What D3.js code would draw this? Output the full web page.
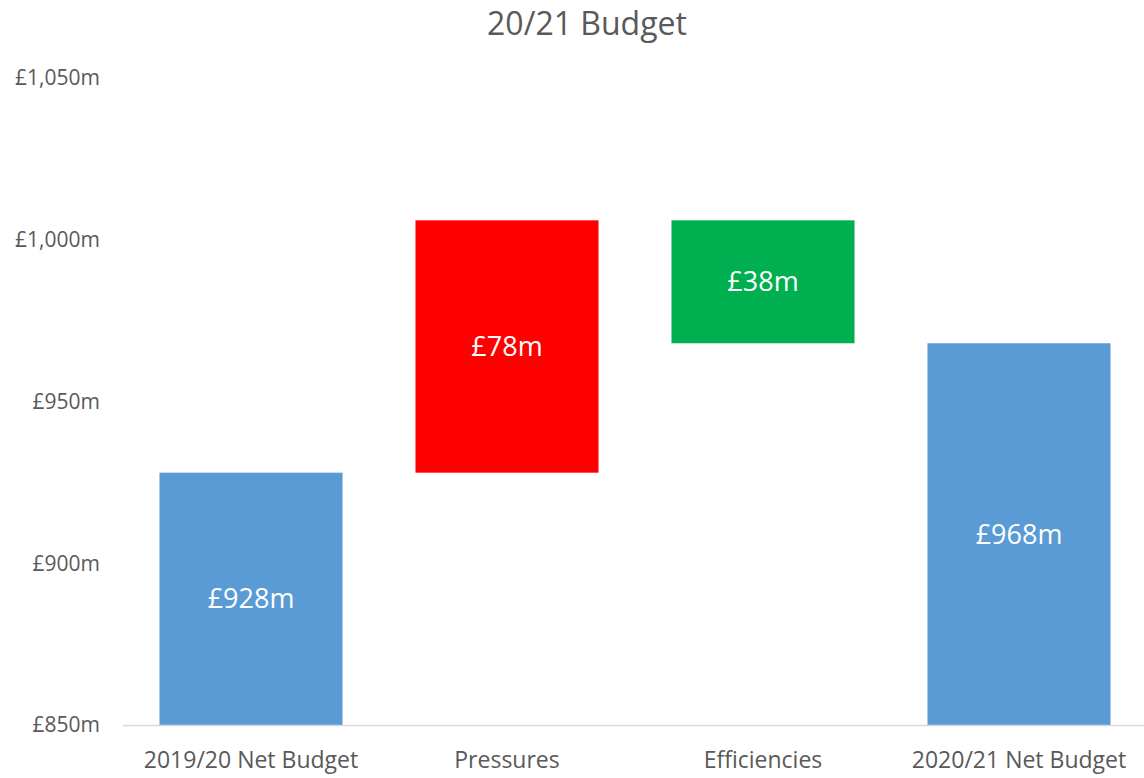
<!DOCTYPE html>
<html>
<head>
<meta charset="utf-8">
<script src="https://cdn.jsdelivr.net/npm/d3@7"></script>
<style>
  body { margin: 0; background: #fff; }
  text { font-family: "Open Sans", "Noto Sans", sans-serif; }
</style>
</head>
<body>
<svg></svg>
<script>
const categories = ['2019/20 Net Budget', 'Pressures', 'Efficiencies', '2020/21 Net Budget'];
const amounts = [928, 78, -38, 968];
const kinds = ['total', 'increase', 'decrease', 'total'];
const yTicks = [850, 900, 950, 1000, 1050];

const kindColor = { total: '#5b9bd5', increase: '#ff0000', decrease: '#00b050' };

const svgWidth = 1144;
const svgHeight = 778;
const margin = { top: 78, right: -3, bottom: 53, left: 123 };
const width = svgWidth - margin.left - margin.right;
const height = svgHeight - margin.top - margin.bottom;

// work out start/end of each waterfall step
let running = 0;
const steps = categories.map((c, i) => {
    let start, end;
    if (kinds[i] === 'total') {
        start = 850;
        end = amounts[i];
        running = amounts[i];
    } else {
        start = running;
        end = running + amounts[i];
        running = end;
    }
    return { category: c, amount: amounts[i], kind: kinds[i], start, end };
});

const svg = d3.select('svg')
    .attr('width', svgWidth)
    .attr('height', svgHeight);

svg.append('text')
    .attr('x', 587)
    .attr('y', 35)
    .attr('text-anchor', 'middle')
    .attr('fill', '#595959')
    .attr('font-size', '32px')
    .text('20/21 Budget');

const g = svg.append('g')
    .attr('transform', `translate(${margin.left}, ${margin.top})`);

const x = d3.scaleBand()
    .domain(categories)
    .range([0, width])
    .paddingInner(0.285)
    .paddingOuter(0.1425);

const y = d3.scaleLinear()
    .domain([850, 1050])
    .range([height, 0]);

// y tick labels only, no axis line
g.selectAll('.ytick')
    .data(yTicks)
    .enter().append('text')
    .attr('class', 'ytick')
    .attr('x', -23)
    .attr('y', d => y(d))
    .attr('dy', '.35em')
    .attr('text-anchor', 'end')
    .attr('fill', '#595959')
    .attr('font-size', '21px')
    .text(d => `£${d3.format(',')(d)}m`);

g.selectAll('.bar')
    .data(steps)
    .enter().append('rect')
    .attr('class', 'bar')
    .attr('x', d => x(d.category))
    .attr('width', x.bandwidth())
    .attr('y', d => y(Math.max(d.start, d.end)))
    .attr('height', d => Math.abs(y(d.start) - y(d.end)))
    .attr('fill', d => kindColor[d.kind]);

g.append('line')
    .attr('x1', 0)
    .attr('x2', width)
    .attr('y1', height + 0.5)
    .attr('y2', height + 0.5)
    .attr('stroke', '#d9d9d9')
    .attr('stroke-width', 1.3);

g.selectAll('.val')
    .data(steps)
    .enter().append('text')
    .attr('class', 'val')
    .attr('x', d => x(d.category) + x.bandwidth() / 2)
    .attr('y', d => (y(d.start) + y(d.end)) / 2)
    .attr('dy', '.35em')
    .attr('text-anchor', 'middle')
    .attr('fill', 'white')
    .attr('font-size', '27px')
    .text(d => `£${Math.abs(d.amount)}m`);

g.selectAll('.cat')
    .data(categories)
    .enter().append('text')
    .attr('class', 'cat')
    .attr('x', d => x(d) + x.bandwidth() / 2)
    .attr('y', height + 43)
    .attr('text-anchor', 'middle')
    .attr('fill', '#595959')
    .attr('font-size', '23px')
    .text(d => d);
</script>
</body>
</html>
